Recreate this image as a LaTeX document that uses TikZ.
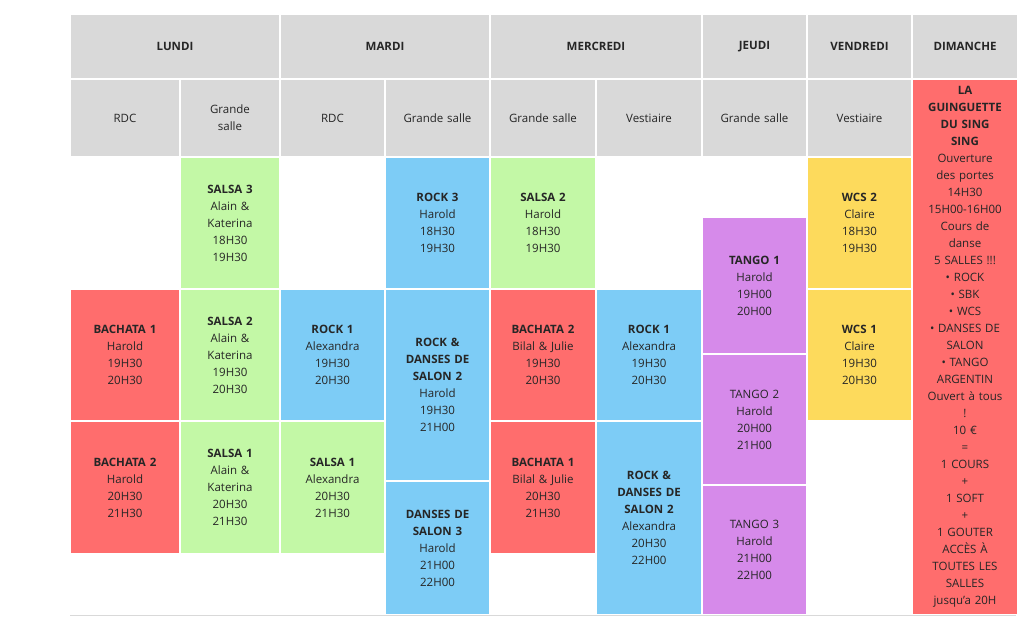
\documentclass[tikz,border=0pt]{standalone}
\usepackage{fontspec}
\setmainfont{Open Sans}
\definecolor{cred}{HTML}{FF6D6D}
\definecolor{cgreen}{HTML}{C3F8A6}
\definecolor{cblue}{HTML}{7DCCF6}
\definecolor{cyel}{HTML}{FDDA5C}
\definecolor{cpur}{HTML}{D68AEA}
\definecolor{cgray}{HTML}{D9D9D9}
\tikzset{cell/.style={inner sep=0pt,align=center,text width=92pt,font=\fontsize{11.5}{17}\selectfont,text=black!85}}
\newcommand{\cellbox}[7]{\node[cell,fill=#6,minimum width={#4-#2-2},minimum height={#5-#3-2}] (#1) at ({(#2+#4)/2},{(#3+#5)/2}) {#7};}
\begin{document}
\begin{tikzpicture}[x=1pt,y=-1pt]
\useasboundingbox (0,0) rectangle (1024,624);
\draw[cgray,line width=1pt] (70,615) -- (1016,615);
% headers
\cellbox{hl}{70}{14}{280}{79}{cgray}{\textbf{LUNDI}}
\cellbox{hm}{280}{14}{490}{79}{cgray}{\textbf{MARDI}}
\cellbox{hme}{490}{14}{702}{79}{cgray}{\textbf{MERCREDI}}
\cellbox{hj}{702}{14}{807}{79}{cgray}{\textbf{JEUDI}}
\cellbox{hv}{807}{14}{912}{79}{cgray}{\textbf{VENDREDI}}
\cellbox{hd}{912}{14}{1018}{79}{cgray}{\textbf{DIMANCHE}}
\cellbox{s1}{70}{79}{180}{157}{cgray}{RDC}
\cellbox{s2}{180}{79}{280}{157}{cgray}{Grande\\salle}
\cellbox{s3}{280}{79}{385}{157}{cgray}{RDC}
\cellbox{s4}{385}{79}{490}{157}{cgray}{Grande salle}
\cellbox{s5}{490}{79}{596}{157}{cgray}{Grande salle}
\cellbox{s6}{596}{79}{702}{157}{cgray}{Vestiaire}
\cellbox{s7}{702}{79}{807}{157}{cgray}{Grande salle}
\cellbox{s8}{807}{79}{912}{157}{cgray}{Vestiaire}
% lundi
\cellbox{a1}{70}{289}{180}{421}{cred}{\textbf{BACHATA 1}\\Harold\\19H30\\20H30}
\cellbox{a2}{70}{421}{180}{554}{cred}{\textbf{BACHATA 2}\\Harold\\20H30\\21H30}
\cellbox{b1}{180}{157}{280}{289}{cgreen}{\textbf{SALSA 3}\\Alain \&\\Katerina\\18H30\\19H30}
\cellbox{b2}{180}{289}{280}{421}{cgreen}{\textbf{SALSA 2}\\Alain \&\\Katerina\\19H30\\20H30}
\cellbox{b3}{180}{421}{280}{554}{cgreen}{\textbf{SALSA 1}\\Alain \&\\Katerina\\20H30\\21H30}
% mardi
\cellbox{c1}{280}{289}{385}{421}{cblue}{\textbf{ROCK 1}\\Alexandra\\19H30\\20H30}
\cellbox{c2}{280}{421}{385}{554}{cgreen}{\textbf{SALSA 1}\\Alexandra\\20H30\\21H30}
\cellbox{d1}{385}{157}{490}{289}{cblue}{\textbf{ROCK 3}\\Harold\\18H30\\19H30}
\cellbox{d2}{385}{289}{490}{481}{cblue}{\textbf{ROCK \&}\\\textbf{DANSES DE}\\\textbf{SALON 2}\\Harold\\19H30\\21H00}
\cellbox{d3}{385}{481}{490}{615}{cblue}{\textbf{DANSES DE}\\\textbf{SALON 3}\\Harold\\21H00\\22H00}
% mercredi
\cellbox{e1}{490}{157}{596}{289}{cgreen}{\textbf{SALSA 2}\\Harold\\18H30\\19H30}
\cellbox{e2}{490}{289}{596}{421}{cred}{\textbf{BACHATA 2}\\Bilal \& Julie\\19H30\\20H30}
\cellbox{e3}{490}{421}{596}{554}{cred}{\textbf{BACHATA 1}\\Bilal \& Julie\\20H30\\21H30}
\cellbox{f1}{596}{289}{702}{421}{cblue}{\textbf{ROCK 1}\\Alexandra\\19H30\\20H30}
\cellbox{f2}{596}{421}{702}{615}{cblue}{\textbf{ROCK \&}\\\textbf{DANSES DE}\\\textbf{SALON 2}\\Alexandra\\20H30\\22H00}
% jeudi
\cellbox{g1}{702}{217}{807}{354}{cpur}{\textbf{TANGO 1}\\Harold\\19H00\\20H00}
\cellbox{g2}{702}{354}{807}{485}{cpur}{TANGO 2\\Harold\\20H00\\21H00}
\cellbox{g3}{702}{485}{807}{615}{cpur}{TANGO 3\\Harold\\21H00\\22H00}
% vendredi
\cellbox{h1}{807}{157}{912}{289}{cyel}{\textbf{WCS 2}\\Claire\\18H30\\19H30}
\cellbox{h2}{807}{289}{912}{421}{cyel}{\textbf{WCS 1}\\Claire\\19H30\\20H30}
% dimanche
\cellbox{k1}{912}{79}{1018}{615}{cred}{\textbf{LA}\\\textbf{GUINGUETTE}\\\textbf{DU SING}\\\textbf{SING}\\Ouverture\\des portes\\14H30\\15H00-16H00\\Cours de\\danse\\5 SALLES !!!\\• ROCK\\• SBK\\• WCS\\• DANSES DE\\SALON\\• TANGO\\ARGENTIN\\Ouvert à tous\\!\\10 €\\=\\1 COURS\\+\\1 SOFT\\+\\1 GOUTER\\ACCÈS À\\TOUTES LES\\SALLES\\jusqu'a 20H}
\end{tikzpicture}
\end{document}
